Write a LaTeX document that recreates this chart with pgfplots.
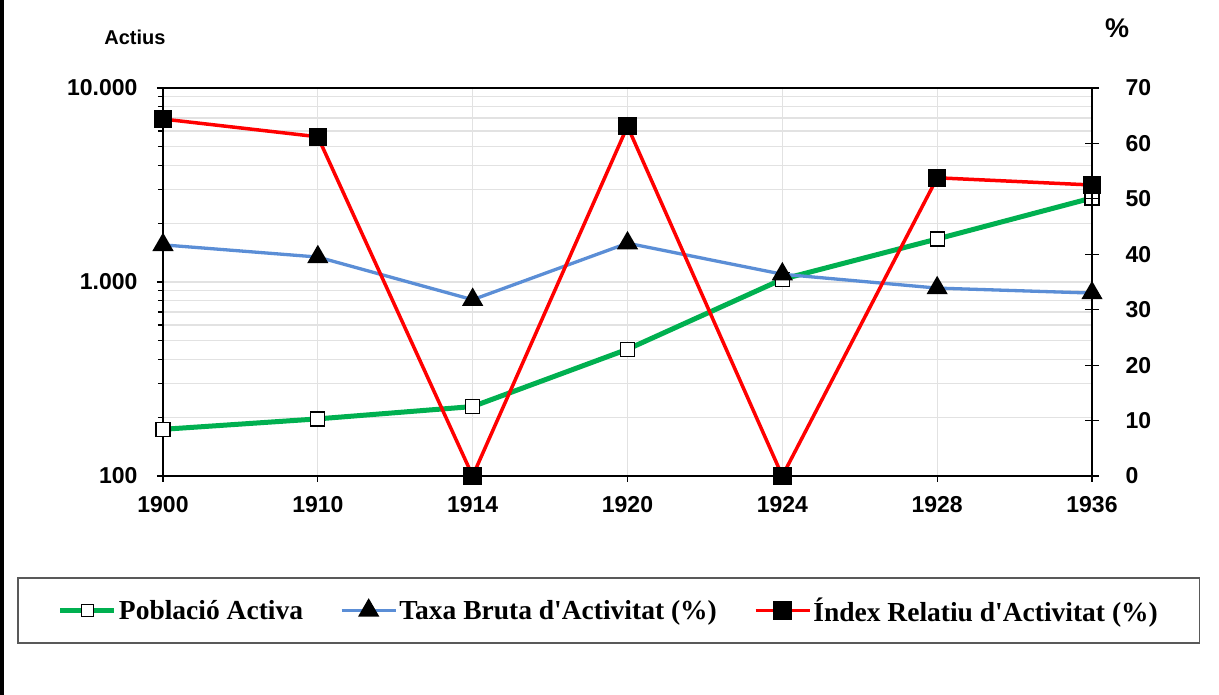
\documentclass[border=0pt]{standalone}
\usepackage{fontspec}
\setmainfont{Liberation Sans}
\newfontfamily\legfont{Liberation Serif}
\usepackage{pgfplots}
\pgfplotsset{compat=1.18}

\definecolor{cgreen}{HTML}{00B050}
\definecolor{cblue}{HTML}{5B8ED6}
\definecolor{cred}{HTML}{FF0000}
\definecolor{cgrid}{HTML}{E2E2E2}

\pgfplotsset{
  common/.style={
    at={(163pt,219pt)}, anchor=south west, scale only axis,
    width=929pt, height=388pt,
    xmin=0, xmax=6,
    axis line style={line width=1.4pt},
    every tick/.style={black, line width=1.2pt},
    ticklabel style={font=\bfseries\fontsize{23}{23}\selectfont},
    /pgf/number format/assume math mode=true,
  },
  sample/.style={legend image code/.code={
    \draw[mark repeat=2,mark phase=2] plot coordinates {(0pt,0pt) (27pt,0pt) (54pt,0pt)};}},
}

\begin{document}
\begin{tikzpicture}[x=1pt,y=1pt]
\fill[white] (0,0) rectangle (1219,695);
\fill[black] (0,0) rectangle (4,695);
\node[font=\bfseries\fontsize{20}{20}\selectfont] at (135,658) {Actius};
\node[font=\bfseries\fontsize{27}{27}\selectfont] at (1117,667) {\%};

\begin{axis}[common,
  xtick={0,...,6}, xticklabels={1900,1910,1914,1920,1924,1928,1936},
  xtick pos=bottom, ytick pos=left,
  xticklabel style={yshift=-11pt},
  yticklabel style={xshift=-16pt},
  ymode=log, ymin=100, ymax=10000,
  ytick={100,1000,10000}, yticklabels={100,1.000,10.000},
  tick align=outside, major tick length=6pt, minor tick length=5pt,
  grid=both,
  major grid style={cgrid, line width=1.2pt},
  minor grid style={cgrid, line width=1.2pt},
  clip=false,
]
\addplot[cgreen, line width=5pt, mark=square*, mark size=7pt,
  mark options={fill=white, draw=black, line width=1.3pt}]
  coordinates {(0,174) (1,197) (2,228) (3,450) (4,1033) (5,1666) (6,2710)};
\end{axis}

\begin{axis}[common,
  axis x line=none, axis y line*=right,
  ymin=0, ymax=70, ytick={0,10,...,70},
  yticklabel style={xshift=23pt},
  tick align=center, major tick length=14pt,
  clip=false,
  legend columns=3, legend cell align=left,
  legend style={at={(0.480,-0.3466)}, anchor=center,
    draw=black!65, line width=1.2pt,
    font=\legfont\bfseries\fontsize{27.5}{27.5}\selectfont,
    inner xsep=40pt, inner ysep=18pt,
    /tikz/every even column/.append style={column sep=35pt}},
]
\addlegendimage{sample, cgreen, line width=5pt, mark=square*, mark size=6pt,
  mark options={fill=white, draw=black, line width=1.3pt}}
\addlegendentry{Població Activa}
\addplot[sample, cblue, line width=3.3pt, mark=triangle*, mark size=9pt,
  mark options={fill=black, draw=black}]
  coordinates {(0,41.7) (1,39.5) (2,31.8) (3,42.0) (4,36.4) (5,33.9) (6,33.0)};
\addlegendentry{Taxa Bruta d'Activitat (\%)}
\addplot[sample, cred, line width=3.5pt, mark=square*, mark size=7.5pt,
  mark options={fill=black, draw=black}]
  coordinates {(0,64.4) (1,61.2) (2,0) (3,63.1) (4,0) (5,53.8) (6,52.5)};
\addlegendentry{Índex Relatiu d'Activitat (\%)}
\end{axis}
\end{tikzpicture}
\end{document}
